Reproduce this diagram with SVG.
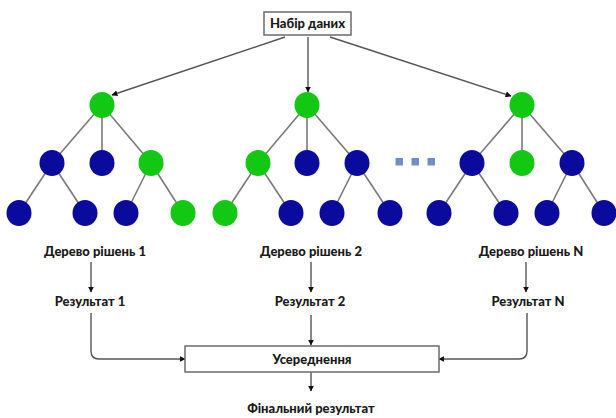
<svg xmlns="http://www.w3.org/2000/svg" width="616" height="418" viewBox="0 0 616 418">
<style>
.box{fill:#fff;stroke:#6b6b6b;stroke-width:1.5}
.t{font-family:Lato,"Liberation Sans",sans-serif;font-weight:900;font-size:13px;fill:#1a1a1a;text-anchor:middle}
.g{fill:#12c812}
.b{fill:#0a0a9c}
.e{stroke:#7a7a7a;stroke-width:1.6;fill:none}
.a{stroke:#555;stroke-width:1.4;fill:none;marker-end:url(#ah)}
.dot{fill:#6f8fc9}
</style>
<defs>
<marker id="ah" viewBox="0 0 10 10" refX="9" refY="5" markerWidth="6" markerHeight="6" orient="auto" markerUnits="userSpaceOnUse">
<path d="M0,0 L10,5 L0,10 z" fill="#111"/>
</marker>
</defs>
<rect width="616" height="418" fill="#fff"/>
<g id="connectors">
<path class="e" d="M102,105 L52,163 M102,105 L102,163 M102,105 L151,163 M52,163 L19,213 M52,163 L85,213 M151,163 L126,213 M151,163 L183,213"/>
<path class="e" d="M307,105 L258,163 M307,105 L307,163 M307,105 L357,163 M258,163 L225,213 M258,163 L291,213 M357,163 L332,213 M357,163 L390,213"/>
<path class="e" d="M522,105 L472,163 M522,105 L522,163 M522,105 L572,163 M472,163 L439,213 M472,163 L506,213 M572,163 L547,213 M572,163 L604,213"/>
<path class="a" d="M285,37 L112,95"/>
<path class="a" d="M308,37 L308,92"/>
<path class="a" d="M330,37 L511,96"/>
<path class="a" d="M91,262 L91,292"/>
<path class="a" d="M311,262 L311,292"/>
<path class="a" d="M526,262 L526,292"/>
<path class="a" d="M91,313 L91,351 Q91,359 99,359 L185,359"/>
<path class="a" d="M311,315 L311,345"/>
<path class="a" d="M527,313 L527,351 Q527,359 519,359 L439,359"/>
<path class="a" d="M311,372 L311,391"/>
</g>
<g id="dataset"><rect class="box" x="264" y="12" width="87" height="23"/><text class="t" x="307.5" y="28">Набір даних</text></g>
<g id="tree1">
<ellipse id="t1r" class="g" cx="102" cy="105" rx="12.5" ry="13"/>
<ellipse id="t1a" class="b" cx="52" cy="163" rx="12.5" ry="13"/>
<ellipse id="t1b" class="b" cx="102" cy="163" rx="12.5" ry="13"/>
<ellipse id="t1c" class="g" cx="151" cy="163" rx="12.5" ry="13"/>
<ellipse id="t1d" class="b" cx="19" cy="213" rx="12.5" ry="13"/>
<ellipse id="t1e" class="b" cx="85" cy="213" rx="12.5" ry="13"/>
<ellipse id="t1f" class="b" cx="126" cy="213" rx="12.5" ry="13"/>
<ellipse id="t1g" class="g" cx="183" cy="213" rx="12.5" ry="13"/>
</g>
<g id="tree2">
<ellipse id="t2r" class="g" cx="307" cy="105" rx="12.5" ry="13"/>
<ellipse id="t2a" class="g" cx="258" cy="163" rx="12.5" ry="13"/>
<ellipse id="t2b" class="b" cx="307" cy="163" rx="12.5" ry="13"/>
<ellipse id="t2c" class="b" cx="357" cy="163" rx="12.5" ry="13"/>
<ellipse id="t2d" class="g" cx="225" cy="213" rx="12.5" ry="13"/>
<ellipse id="t2e" class="b" cx="291" cy="213" rx="12.5" ry="13"/>
<ellipse id="t2f" class="b" cx="332" cy="213" rx="12.5" ry="13"/>
<ellipse id="t2g" class="b" cx="390" cy="213" rx="12.5" ry="13"/>
</g>
<g id="tree3">
<ellipse id="t3r" class="g" cx="522" cy="105" rx="12.5" ry="13"/>
<ellipse id="t3a" class="b" cx="472" cy="163" rx="12.5" ry="13"/>
<ellipse id="t3b" class="g" cx="522" cy="163" rx="12.5" ry="13"/>
<ellipse id="t3c" class="b" cx="572" cy="163" rx="12.5" ry="13"/>
<ellipse id="t3d" class="b" cx="439" cy="213" rx="12.5" ry="13"/>
<ellipse id="t3e" class="b" cx="506" cy="213" rx="12.5" ry="13"/>
<ellipse id="t3f" class="b" cx="547" cy="213" rx="12.5" ry="13"/>
<ellipse id="t3g" class="b" cx="604" cy="213" rx="12.5" ry="13"/>
</g>
<g id="ellipsis">
<rect class="dot" x="395.5" y="158" width="7.5" height="7.5"/>
<rect class="dot" x="411.5" y="158" width="7.5" height="7.5"/>
<rect class="dot" x="427.5" y="158" width="7.5" height="7.5"/>
</g>
<g id="label1"><text class="t" x="95" y="256">Дерево рішень 1</text></g>
<g id="label2"><text class="t" x="311" y="256">Дерево рішень 2</text></g>
<g id="labelN"><text class="t" x="531" y="256">Дерево рішень N</text></g>
<g id="res1"><text class="t" x="90" y="306">Результат 1</text></g>
<g id="res2"><text class="t" x="310" y="306">Результат 2</text></g>
<g id="resN"><text class="t" x="528" y="306">Результат N</text></g>
<g id="avg"><rect class="box" x="185" y="346" width="254" height="26"/><text class="t" x="312" y="363.5">Усереднення</text></g>
<g id="final"><text class="t" x="311" y="413">Фінальний результат</text></g>
</svg>
